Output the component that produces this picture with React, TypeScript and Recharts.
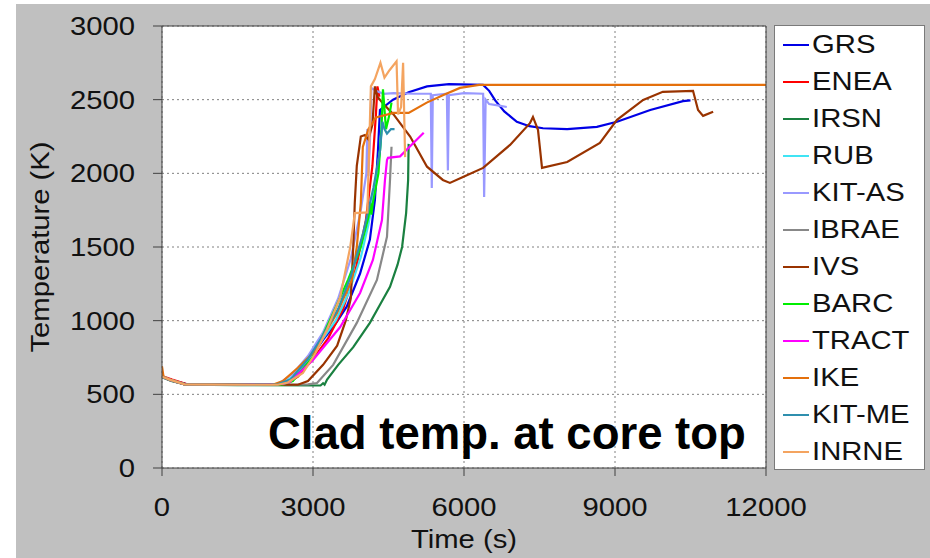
import { LineChart, Line, XAxis, YAxis, CartesianGrid, ReferenceLine, Label } from 'recharts';

// time (s), clad temperature (K) pairs
const grs: [number, number][] = [
  [0, 620], [200, 595], [500, 568], [1500, 565], [2300, 568], [2540, 584], [2900, 720], [3200, 870],
  [3450, 980], [3670, 1095], [3935, 1320], [4130, 1550], [4230, 1820], [4290, 2150], [4330, 2430],
  [4590, 2500], [4900, 2550], [5265, 2590], [5700, 2605], [6380, 2600], [6500, 2560], [6620, 2495],
  [6800, 2420], [7050, 2350], [7300, 2320], [7570, 2306], [8050, 2300], [8640, 2315], [9040, 2350],
  [9700, 2430], [10350, 2490], [10500, 2495],
];
const enea: [number, number][] = [
  [0, 625], [200, 600], [500, 568], [1500, 565], [2450, 568], [2700, 620], [3000, 740], [3300, 880],
  [3600, 1080], [3850, 1350], [4050, 1680], [4180, 2050], [4250, 2400], [4280, 2590], [4320, 2520],
];
const irsn: [number, number][] = [
  [0, 615], [200, 590], [500, 566], [1500, 563], [3150, 560], [3200, 575], [3230, 565], [3280, 600],
  [3500, 700], [3800, 820], [4130, 985], [4350, 1120], [4530, 1230], [4680, 1380], [4770, 1500],
  [4850, 1730], [4890, 1955], [4900, 2200],
];
const rub: [number, number][] = [
  [0, 625], [150, 600], [450, 568], [1500, 565], [2350, 568], [2600, 620], [2900, 730], [3200, 880],
  [3450, 1000], [3700, 1180], [3950, 1430], [4100, 1650], [4250, 1950], [4330, 2150], [4370, 2350],
];
const kitAs: [number, number][] = [
  [0, 620], [150, 600], [450, 568], [1500, 565], [2300, 568], [2600, 640], [2900, 760], [3200, 920],
  [3500, 1150], [3750, 1420], [3950, 1750], [4060, 2000], [4080, 2300], [4100, 1980], [4130, 2200],
  [4160, 2580], [4250, 2560], [4400, 2540], [4600, 2545], [5000, 2540], [5340, 2540], [5360, 1900],
  [5380, 2530], [5660, 2540], [5680, 2020], [5700, 2530], [6000, 2545], [6380, 2540], [6400, 1840],
  [6430, 2500], [6500, 2470], [6700, 2460], [6850, 2450],
];
const ibrae: [number, number][] = [
  [0, 620], [150, 598], [450, 568], [1500, 565], [2900, 568], [3080, 577], [3400, 700], [3870, 985],
  [4270, 1276], [4470, 1570], [4530, 1955], [4560, 2180],
];
const ivs: [number, number][] = [
  [0, 620], [150, 598], [450, 568], [1500, 565], [2700, 565], [2900, 590], [3200, 700], [3480, 830],
  [3650, 1000], [3750, 1150], [3800, 1500], [3830, 1800], [3870, 2050], [3950, 2250], [4030, 2260],
  [4100, 2230], [4180, 2330], [4230, 2590], [4280, 2520], [4400, 2470], [4600, 2400], [4930, 2250],
  [5265, 2045], [5580, 1955], [5720, 1935], [5980, 1975], [6380, 2037], [6915, 2193], [7310, 2340],
  [7370, 2383], [7470, 2295], [7550, 2037], [8050, 2077], [8700, 2206], [9040, 2363], [9560, 2498],
  [9950, 2553], [10550, 2560], [10650, 2430], [10750, 2390], [10950, 2418],
];
const barc: [number, number][] = [
  [0, 620], [150, 598], [450, 568], [1500, 565], [2400, 568], [2600, 590], [3000, 755], [3400, 1050],
  [3700, 1280], [3950, 1500], [4100, 1700], [4140, 1800], [4160, 1720], [4190, 1800], [4300, 2000],
  [4360, 2300], [4390, 2570], [4450, 2300], [4520, 2400], [4560, 2480],
];
const tract: [number, number][] = [
  [0, 620], [150, 598], [450, 568], [1500, 565], [2400, 570], [2540, 584], [3000, 733], [3540, 957],
  [3935, 1188], [4190, 1412], [4370, 1683], [4430, 1955], [4470, 2090], [4490, 2105], [4730, 2115],
  [4950, 2190], [5200, 2275],
];
const ike: [number, number][] = [
  [0, 690], [30, 620], [150, 600], [450, 568], [1500, 565], [2200, 565], [2400, 590], [2700, 680],
  [3000, 780], [3475, 1050], [3775, 1280], [3870, 1500], [3950, 1800], [3990, 2180], [4100, 2300],
  [4250, 2380], [4600, 2410], [4900, 2410], [5260, 2480], [5580, 2530], [5920, 2580], [6300, 2600],
  [12000, 2600],
];
const kitMe: [number, number][] = [
  [0, 620], [150, 598], [450, 568], [1500, 565], [2300, 568], [2550, 600], [2900, 740], [3200, 900],
  [3500, 1080], [3750, 1300], [4000, 1600], [4200, 1900], [4330, 2150], [4380, 2350], [4420, 2300],
  [4470, 2270], [4550, 2300], [4620, 2300],
];
const inrne: [number, number][] = [
  [0, 620], [150, 600], [450, 568], [1500, 565], [2300, 565], [2500, 580], [2800, 645], [3050, 780],
  [3280, 940], [3540, 1160], [3740, 1500], [3800, 1650], [3830, 1730], [4080, 1735], [4110, 2100],
  [4150, 2590], [4230, 2640], [4340, 2750], [4420, 2650], [4520, 2700], [4660, 2760], [4690, 2400],
  [4750, 2450], [4790, 2750], [4830, 2110],
];

const timeTicks = [0, 3000, 6000, 9000, 12000];
const tempTicks = [0, 500, 1000, 1500, 2000, 2500, 3000];

const FONT = '"Liberation Sans", Arial, sans-serif';
const STRETCH = 1.17;

const series = [
  { name: 'GRS', color: '#0000e6', data: grs },
  { name: 'ENEA', color: '#ff0000', data: enea },
  { name: 'IRSN', color: '#1a8040', data: irsn },
  { name: 'RUB', color: '#40e4f4', data: rub },
  { name: 'KIT-AS', color: '#9999ff', data: kitAs },
  { name: 'IBRAE', color: '#888888', data: ibrae },
  { name: 'IVS', color: '#993300', data: ivs },
  { name: 'BARC', color: '#00ee00', data: barc },
  { name: 'TRACT', color: '#ff00ff', data: tract },
  { name: 'IKE', color: '#e4700c', data: ike },
  { name: 'KIT-ME', color: '#2f8fae', data: kitMe },
  { name: 'INRNE', color: '#f4a460', data: inrne },
].map((s) => ({ ...s, points: s.data.map(([t, T]) => ({ t, T })) }));

const YTick = ({ x, y, payload }: any) => (
  <g transform={`translate(${x},${y})`}>
    <text textAnchor="end" dy="0.355em" fontSize={25} fontFamily={FONT} fill="#111" transform={`scale(${STRETCH},1)`}>
      {payload.value}
    </text>
  </g>
);

const XTick = ({ x, y, payload }: any) => (
  <g transform={`translate(${x},${y})`}>
    <text textAnchor="middle" dy="0.71em" fontSize={25} fontFamily={FONT} fill="#111" transform={`scale(${STRETCH},1)`}>
      {payload.value}
    </text>
  </g>
);

const YTitle = ({ viewBox }: any) => (
  <text
    transform={`translate(${viewBox.x + 40},${viewBox.y + viewBox.height / 2}) rotate(-90) scale(${STRETCH},1)`}
    textAnchor="middle"
    dy="0.355em"
    fontSize={25}
    fontFamily={FONT}
    fill="#111"
  >
    Temperature (K)
  </text>
);

const XTitle = ({ viewBox }: any) => (
  <text
    transform={`translate(${viewBox.x + viewBox.width / 2},${viewBox.y + 80}) scale(${STRETCH},1)`}
    textAnchor="middle"
    fontSize={25}
    fontFamily={FONT}
    fill="#111"
  >
    Time (s)
  </text>
);

// legend box on the right, drawn as plain html
const CustomLegend = () => (
  <div
    style={{
      position: 'absolute', left: 774, top: 25, width: 151, height: 445, boxSizing: 'border-box',
      background: '#fff', border: '1px solid #7a7a7a',
    }}
  >
    {series.map((s) => (
      <div key={s.name} style={{ position: 'relative', height: 37, display: 'flex', alignItems: 'center' }}>
        <div style={{ position: 'absolute', left: 8, top: 18, width: 26, height: 2, background: s.color }} />
        <span
          style={{
            position: 'absolute', left: 37, top: 3, fontSize: 25, lineHeight: '30px', fontFamily: FONT, color: '#111',
            transform: `scaleX(${STRETCH})`, transformOrigin: 'left center', whiteSpace: 'nowrap',
          }}
        >
          {s.name}
        </span>
      </div>
    ))}
  </div>
);

export default function App() {
  return (
    <div style={{ position: 'absolute', left: 0, top: 0, width: 930, height: 558, background: '#fff', overflow: 'hidden' }}>
      <div style={{ position: 'absolute', left: 16, top: 4, right: 0, bottom: 0, background: '#c0c0c0' }} />
      <div style={{ position: 'absolute', left: 0, top: 0 }}>
        <LineChart width={930} height={558} margin={{ top: 26, right: 164, bottom: 0, left: 0 }}>
          <CartesianGrid stroke="#808080" strokeDasharray="2 3" fill="#fff" />
          <XAxis
            type="number"
            dataKey="t"
            domain={[0, 12000]}
            ticks={timeTicks}
            allowDataOverflow
            height={90}
            tickSize={8}
            tickMargin={22}
            tick={<XTick />}
            stroke="#404040"
          >
            <Label content={<XTitle />} />
          </XAxis>
          <YAxis
            type="number"
            domain={[0, 3000]}
            ticks={tempTicks}
            allowDataOverflow
            width={162}
            tickSize={9}
            tickMargin={18}
            tick={<YTick />}
            stroke="#404040"
          >
            <Label content={<YTitle />} />
          </YAxis>
          {series.map((s) => (
            <Line
              key={s.name}
              data={s.points}
              dataKey="T"
              name={s.name}
              type="linear"
              stroke={s.color}
              strokeWidth={2.2}
              dot={false}
              isAnimationActive={false}
            />
          ))}
          <ReferenceLine y={3000} stroke="#404040" />
          <ReferenceLine x={12000} stroke="#404040" />
        </LineChart>
      </div>
      <div
        style={{
          position: 'absolute', left: 268, top: 411, fontSize: 45.5, lineHeight: '45px', fontWeight: 'bold',
          fontFamily: FONT, color: '#000', whiteSpace: 'nowrap',
        }}
      >
        Clad temp. at core top
      </div>
      <CustomLegend />
    </div>
  );
}
